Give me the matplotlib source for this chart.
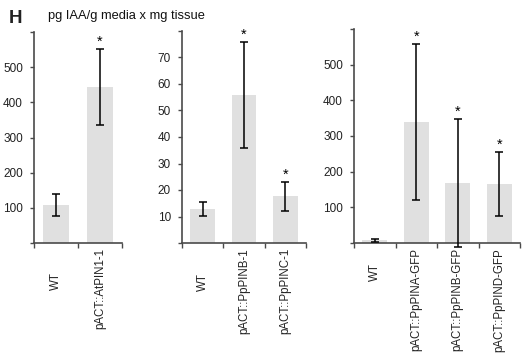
import matplotlib
matplotlib.use("Agg")
import matplotlib.pyplot as plt
from matplotlib import transforms
import numpy as np

plt.rcParams['font.family'] = ['Liberation Sans', 'DejaVu Sans']

# panel 1: AtPIN1
labels1 = ['WT', 'pACT::AtPIN1-1']
means1 = [108, 443]
errs1 = [30, 108]
stars1 = [False, True]

# panel 2: PpPINB / PpPINC
labels2 = ['WT', 'pACT::PpPINB-1', 'pACT::PpPINC-1']
means2 = [12.8, 55.8, 17.7]
errs2 = [2.7, 20.0, 5.5]
stars2 = [False, True, True]

# panel 3: GFP lines
labels3 = ['WT', 'pACT::PpPINA-GFP', 'pACT::PpPINB-GFP', 'pACT::PpPIND-GFP']
means3 = [8, 340, 168, 165]
errs3 = [4, 219, 180, 90]
stars3 = [False, True, True, True]

W, H = 525, 356
fig = plt.figure(figsize=(W / 100, H / 100), dpi=100)

def px_axes(x0, x1, ytop, ybot):
    return fig.add_axes([x0 / W, 1 - ybot / H, (x1 - x0) / W, (ybot - ytop) / H])

spine_col = '#4a4a4a'
bar_col = '#e0e0e0'


def panel(ax, labels, means, errs, stars, ymax, ystep, wt_pad):
    n = len(labels)
    x = np.arange(n)
    ax.bar(x, means, width=0.6, color=bar_col, zorder=1)
    ax.errorbar(x, means, yerr=errs, fmt='none', ecolor='black',
                elinewidth=1.1, capsize=2.8, capthick=1.1, zorder=3, clip_on=False)
    for xi, m, e, s in zip(x, means, errs, stars):
        if s:
            ax.annotate('*', (xi, m + e), xytext=(0, 0), textcoords='offset points',
                        ha='center', va='bottom', fontsize=10.5, annotation_clip=False)
    ax.set_xlim(-0.5, n - 0.5)
    ax.set_ylim(0, ymax)
    ticks = np.arange(0, ymax + ystep / 2, ystep)
    ax.set_yticks(ticks)
    ax.set_yticklabels(['' if (t == 0 or t == ticks[-1]) else '%g' % t for t in ticks])
    ax.set_xticks(np.arange(-0.5, n, 1.0))
    ax.set_xticklabels([])
    for sp in ['top', 'right']:
        ax.spines[sp].set_visible(False)
    for sp in ['left', 'bottom']:
        ax.spines[sp].set_color(spine_col)
        ax.spines[sp].set_linewidth(1.2)
    ax.tick_params(axis='y', direction='out', length=3, width=1.0, color=spine_col,
                   labelsize=8.5, pad=5, labelcolor='#222222')
    ax.tick_params(axis='x', direction='out', length=3.5, width=1.0, color=spine_col)
    for i, lab in enumerate(labels):
        pad = wt_pad if lab == 'WT' else 5
        tr = transforms.offset_copy(ax.get_xaxis_transform(), fig=fig, x=0, y=-pad * 0.72,
                                    units='points')
        ax.text(i, 0, lab, transform=tr, rotation=90, ha='center', va='top',
                fontsize=8.3, color='#222222')


ax1 = px_axes(34, 122, 32, 243)
panel(ax1, labels1, means1, errs1, stars1, 600, 100, 29)

ax2 = px_axes(182, 306, 31, 243)
panel(ax2, labels2, means2, errs2, stars2, 80, 10, 30)

ax3 = px_axes(354, 520, 29, 243)
panel(ax3, labels3, means3, errs3, stars3, 600, 100, 20)

fig.text(9 / W, 1 - 23 / H, 'H', fontsize=13.5, fontweight='bold', va='baseline', ha='left',
         color='#222222')
fig.text(48 / W, 1 - 19 / H, 'pg IAA/g media x mg tissue', fontsize=9.3, va='baseline',
         ha='left', color='#111111')

fig.savefig('out.png', dpi=100)
